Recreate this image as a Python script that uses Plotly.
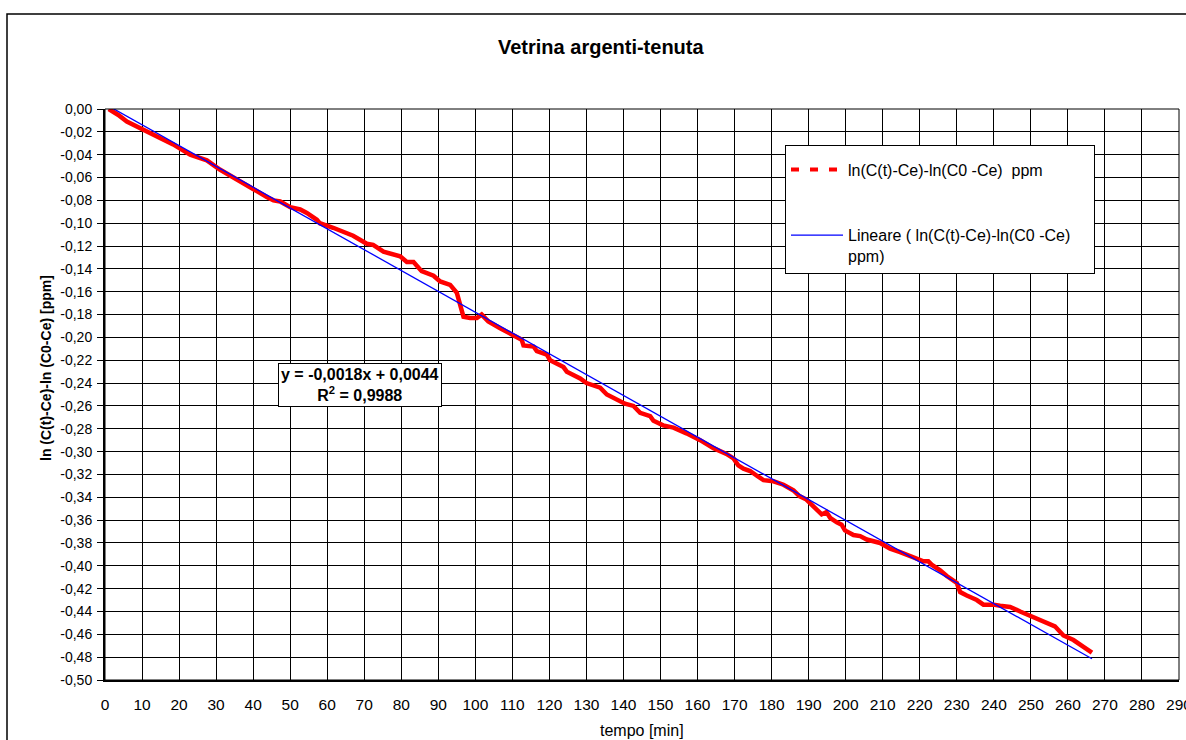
import plotly.graph_objects as go

# ---------------- data ----------------
time_min = [1.0, 3.5, 5.9, 10.3, 14.0, 18.4, 23.0, 27.5, 31.0, 36.5, 40.0, 43.7, 45.5, 47.3,
            50.0, 52.7, 54.5, 57.2, 58.0, 61.6, 67.0, 70.7, 72.4, 75.2, 79.7, 81.5, 83.3,
            85.5, 88.7, 90.5, 93.2, 95.0, 95.9, 96.8, 98.6, 100.4, 101.7, 103.5, 106.7,
            110.3, 112.5, 113.0, 115.7, 116.6, 119.3, 120.2, 123.8, 124.7, 128.3, 130.0,
            133.7, 135.5, 139.0, 140.4, 142.7, 144.5, 147.2, 148.1, 150.7, 153.5, 157.0,
            160.7, 164.3, 167.8, 169.7, 171.0, 172.4, 174.2, 176.4, 177.8, 180.5, 183.2,
            185.9, 187.5, 189.4, 191.3, 193.5, 194.8, 195.8, 197.6, 198.9, 199.8, 202.1,
            203.9, 205.7, 209.3, 212.0, 214.7, 218.3, 221.0, 222.3, 223.2, 225.5, 227.3,
            230.0, 230.9, 232.7, 235.4, 237.2, 239.9, 241.7, 244.4, 247.1, 250.7, 254.3,
            256.5, 258.8, 261.5, 264.2, 266.5]
ln_ratio = [0.000, -0.005, -0.011, -0.018, -0.024, -0.031, -0.040, -0.045, -0.053, -0.064,
            -0.070, -0.077, -0.080, -0.081, -0.086, -0.088, -0.091, -0.097, -0.100, -0.104,
            -0.111, -0.118, -0.119, -0.125, -0.129, -0.134, -0.134, -0.142, -0.146, -0.151,
            -0.154, -0.161, -0.170, -0.182, -0.183, -0.183, -0.180, -0.186, -0.192, -0.198,
            -0.202, -0.207, -0.208, -0.212, -0.215, -0.220, -0.226, -0.230, -0.236, -0.240,
            -0.244, -0.250, -0.255, -0.258, -0.260, -0.266, -0.269, -0.273, -0.277, -0.279,
            -0.284, -0.290, -0.297, -0.302, -0.306, -0.312, -0.315, -0.317, -0.322, -0.325,
            -0.326, -0.329, -0.334, -0.339, -0.342, -0.348, -0.355, -0.353, -0.358, -0.362,
            -0.364, -0.369, -0.373, -0.374, -0.377, -0.380, -0.385, -0.388, -0.393, -0.396,
            -0.396, -0.399, -0.404, -0.409, -0.415, -0.423, -0.426, -0.430, -0.434, -0.434,
            -0.435, -0.436, -0.440, -0.445, -0.450, -0.453, -0.461, -0.465, -0.471, -0.476]

trend_slope = -0.001823
trend_intercept = 0.0044

x_ticks = list(range(0, 300, 10))
y_ticks = [round(-0.02 * i, 2) for i in range(26)]
y_tick_labels = [f"{v:.2f}".replace(".", ",").replace("-0,00", "0,00") for v in y_ticks]

title_text = "Vetrina argenti-tenuta"
x_title = "tempo [min]"
y_title = "ln (C(t)-Ce)-ln (C0-Ce) [ppm]"
series_name = "ln(C(t)-Ce)-ln(C0 -Ce)\u00a0\u00a0ppm"
trend_name = "Lineare ( ln(C(t)-Ce)-ln(C0 -Ce)" + "\u00a0" * 4 + "<br>ppm)"
equation_text = "y = -0,0018x + 0,0044<br>R<sup>2</sup> = 0,9988"

# ---------------- figure ----------------
FONT = "Arial, 'Liberation Sans', sans-serif"
W, H = 1186, 740
L, R, T, B = 105, 7, 109, 60
pw, ph = W - L - R, H - T - B


def px_x(p):
    return (p - L) / pw


def px_y(p):
    return (H - B - p) / ph


trend_x = [min(time_min), max(time_min)]
trend_y = [trend_slope * v + trend_intercept for v in trend_x]

fig = go.Figure()
fig.add_trace(go.Scatter(x=time_min, y=ln_ratio, mode="lines",
                         line=dict(color="#FF0000", width=4.5),
                         showlegend=False, legendgroup="a", hoverinfo="x+y"))
fig.add_trace(go.Scatter(x=[None], y=[None], mode="lines", name=series_name,
                         line=dict(color="#FF0000", width=4, dash="8px,11px"),
                         legendgroup="a"))
fig.add_trace(go.Scatter(x=trend_x, y=trend_y, mode="lines", name=trend_name,
                         line=dict(color="#0000FF", width=1.3), legendgroup="b"))

fig.update_layout(
    width=W, height=H,
    margin=dict(l=L, r=R, t=T, b=B, autoexpand=False),
    paper_bgcolor="white", plot_bgcolor="white",
    font=dict(family=FONT, size=14, color="black"),
    showlegend=True,
    legend=dict(x=px_x(785), y=px_y(145), xanchor="left", yanchor="top",
                bgcolor="white", bordercolor="black", borderwidth=1,
                font=dict(size=16), itemwidth=52, tracegroupgap=42,
                traceorder="grouped", valign="top",
                title=dict(text=" ", font=dict(size=5))),
    xaxis=dict(range=[0, 290], tickvals=x_ticks, ticktext=[str(v) for v in x_ticks],
               showgrid=True, gridcolor="black", gridwidth=1,
               showline=True, linecolor="black", linewidth=2,
               ticks="", ticklabelstandoff=9, zeroline=False,
               ticklabeloverflow="allow", automargin=False,
               tickfont=dict(size=15.5)),
    yaxis=dict(range=[-0.5, 0], tickvals=y_ticks, ticktext=y_tick_labels,
               showgrid=True, gridcolor="black", gridwidth=1,
               showline=True, linecolor="black", linewidth=2,
               ticks="outside", ticklen=6, tickcolor="black", zeroline=False,
               ticklabelstandoff=2, automargin=False,
               tickfont=dict(size=14)),
    shapes=[
        dict(type="rect", xref="paper", yref="paper", x0=0, x1=1, y0=0, y1=1,
             line=dict(color="black", width=1)),
        dict(type="rect", xref="paper", yref="paper",
             x0=px_x(7), x1=px_x(1196), y0=px_y(746), y1=px_y(14),
             line=dict(color="black", width=1.5), layer="below"),
    ],
    annotations=[
        dict(text=f"<b>{title_text}</b>", xref="paper", yref="paper",
             x=px_x(600.5), y=px_y(47), xanchor="center", yanchor="middle",
             showarrow=False, font=dict(size=20)),
        dict(text=x_title, xref="paper", yref="paper", x=px_x(642), y=px_y(730),
             xanchor="center", yanchor="middle",
             showarrow=False, font=dict(size=16)),
        dict(text=f"<b>{y_title}</b>", xref="paper", yref="paper", x=px_x(46),
             y=px_y(368), xanchor="center", yanchor="middle", textangle=-90,
             showarrow=False, font=dict(size=14)),
        dict(text=f"<b>{equation_text}</b>", xref="paper", yref="paper",
             x=px_x(360), y=px_y(384.5), xanchor="center", yanchor="middle",
             showarrow=False, align="center",
             bgcolor="white", bordercolor="black", borderwidth=1, borderpad=2,
             font=dict(size=16)),
    ],
)

fig.write_html("out.html")
